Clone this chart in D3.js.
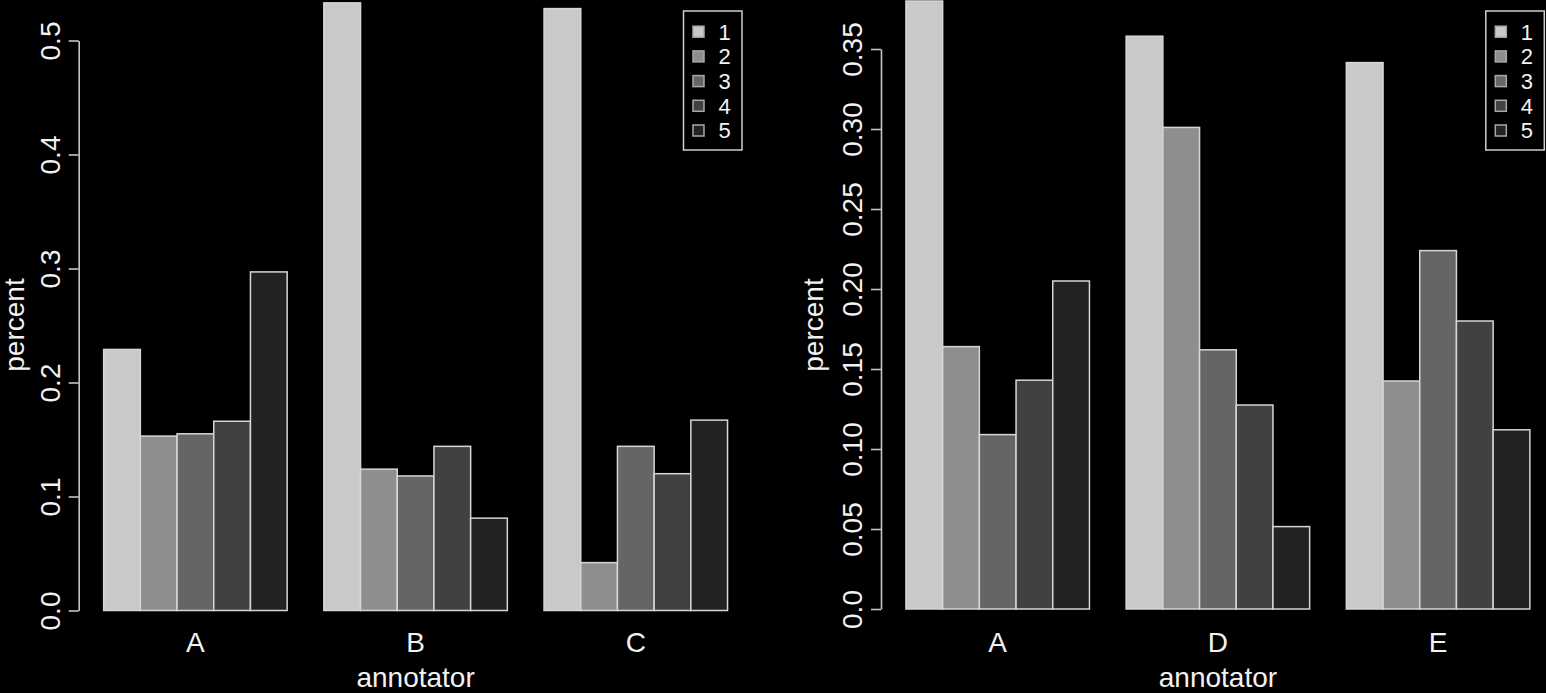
<!DOCTYPE html>
<html>
<head>
<meta charset="utf-8">
<script src="https://cdn.jsdelivr.net/npm/d3@7"></script>
<style>
  html, body { margin: 0; padding: 0; background: #000; }
  svg { display: block; }
  text { font-family: "Liberation Sans", Arial, Helvetica, sans-serif; fill: #f2f2f2; }
</style>
</head>
<body>
<svg id="chart" width="1546" height="693"></svg>
<script>
// ---- data ----
const seriesNames = ["1", "2", "3", "4", "5"];
const leftCategories = ["A", "B", "C"];
const leftA = [0.229, 0.153, 0.155, 0.166, 0.297];
const leftB = [0.533, 0.124, 0.118, 0.144, 0.081];
const leftC = [0.528, 0.042, 0.144, 0.120, 0.167];
const leftTicks = [0, 0.1, 0.2, 0.3, 0.4, 0.5];
const leftTickLabels = ["0.0", "0.1", "0.2", "0.3", "0.4", "0.5"];

const rightCategories = ["A", "D", "E"];
const rightA = [0.380, 0.164, 0.109, 0.143, 0.205];
const rightD = [0.358, 0.301, 0.162, 0.1275, 0.0515];
const rightE = [0.3415, 0.1425, 0.224, 0.180, 0.112];
const rightTicks = [0, 0.05, 0.10, 0.15, 0.20, 0.25, 0.30, 0.35];
const rightTickLabels = ["0.0", "0.05", "0.10", "0.15", "0.20", "0.25", "0.30", "0.35"];

const xLabel = "annotator";
const yLabel = "percent";

// ---- style ----
const barFills = ["#c9c9c9", "#8e8e8e", "#656565", "#414141", "#222222"];
const barStroke = "#d6d6d6";
const axisColor = "#c4c4c4";
const fontAxis = 28;
const fontLegend = 22;

const svg = d3.select("#chart");

function drawPanel(opts) {
  const g = svg.append("g");
  const groups = opts.categories.map((c, i) => ({ name: c, values: opts.values[i] }));
  // R barplot (beside=TRUE) unit coordinates: 1 space before each group of 5 bars
  const x = d3.scaleLinear().domain([0.32, 18.68]).range(opts.xRange);
  const y = d3.scaleLinear().domain(opts.yDomain).range(opts.yRange);
  const nS = seriesNames.length;

  const bars = [];
  groups.forEach((grp, gi) => {
    grp.values.forEach((v, j) => {
      const left = gi * (nS + 1) + 1 + j;
      bars.push({ left, v, j });
    });
  });

  g.selectAll("rect.bar").data(bars).enter().append("rect")
    .attr("class", "bar")
    .attr("x", d => x(d.left))
    .attr("width", d => x(d.left + 1) - x(d.left))
    .attr("y", d => y(d.v))
    .attr("height", d => y(0) - y(d.v))
    .attr("fill", d => barFills[d.j])
    .attr("stroke", barStroke)
    .attr("stroke-width", 1.5);

  // y axis
  const axis = d3.axisLeft(y)
    .tickValues(opts.ticks)
    .tickFormat((d, i) => opts.tickLabels[i])
    .tickSize(10)
    .tickSizeOuter(0);
  const ag = g.append("g")
    .attr("transform", `translate(${opts.xRange[0]},0)`)
    .call(axis);
  ag.select(".domain").attr("stroke", axisColor).attr("stroke-width", 1.6);
  ag.selectAll(".tick line").attr("stroke", axisColor).attr("stroke-width", 1.6);
  ag.selectAll(".tick text")
    .attr("fill", "#f2f2f2")
    .attr("font-size", fontAxis)
    .attr("font-family", "Liberation Sans, Arial, sans-serif")
    .attr("text-anchor", "middle")
    .attr("transform", "rotate(-90)")
    .attr("x", 0)
    .attr("y", -19)
    .attr("dy", 0);

  // category labels
  g.selectAll("text.cat").data(groups).enter().append("text")
    .attr("class", "cat")
    .attr("x", (d, i) => x(i * (nS + 1) + 1 + nS / 2))
    .attr("y", 652)
    .attr("text-anchor", "middle")
    .attr("font-size", fontAxis)
    .text(d => d.name);

  // x label
  g.append("text")
    .attr("x", x(9.5))
    .attr("y", 687)
    .attr("text-anchor", "middle")
    .attr("font-size", fontAxis)
    .text(xLabel);

  // y label
  g.append("text")
    .attr("transform", `translate(${opts.yLabelX},325) rotate(-90)`)
    .attr("text-anchor", "middle")
    .attr("font-size", fontAxis)
    .text(yLabel);

  // legend
  const boxRight = opts.xRange[1] - 10.5;
  const boxW = 58.5, boxTop = 11, boxH = 139;
  const boxLeft = boxRight - boxW;
  const lg = g.append("g");
  lg.append("rect")
    .attr("x", boxLeft).attr("y", boxTop)
    .attr("width", boxW).attr("height", boxH)
    .attr("fill", "none").attr("stroke", "#cfcfcf").attr("stroke-width", 1.5);
  const ly = d3.scalePoint().domain(seriesNames).range([31.7, 130.5]);
  lg.selectAll("rect.sw").data(seriesNames).enter().append("rect")
    .attr("class", "sw")
    .attr("x", boxLeft + 9.5)
    .attr("y", d => ly(d) - 5.5)
    .attr("width", 11).attr("height", 11)
    .attr("fill", (d, i) => barFills[i])
    .attr("stroke", "#a8a8a8").attr("stroke-width", 1.5);
  lg.selectAll("text.lt").data(seriesNames).enter().append("text")
    .attr("class", "lt")
    .attr("x", boxLeft + 35)
    .attr("y", d => ly(d))
    .attr("dy", "0.36em")
    .attr("font-size", fontLegend)
    .text(d => d);
}

drawPanel({
  categories: leftCategories,
  values: [leftA, leftB, leftC],
  xRange: [78.7, 752.5],
  yDomain: [0, 0.5],
  yRange: [610.5, 40.5],
  ticks: leftTicks,
  tickLabels: leftTickLabels,
  yLabelX: 24
});

drawPanel({
  categories: rightCategories,
  values: [rightA, rightD, rightE],
  xRange: [881, 1554.8],
  yDomain: [0, 0.35],
  yRange: [609, 49],
  ticks: rightTicks,
  tickLabels: rightTickLabels,
  yLabelX: 823
});
</script>
</body>
</html>
